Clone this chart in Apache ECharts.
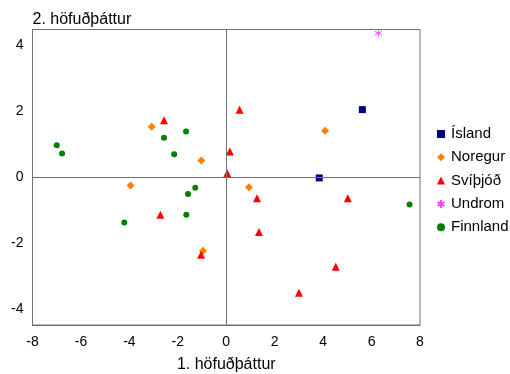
<!DOCTYPE html>
<html lang="is">
<head>
  <meta charset="UTF-8">
  <title>Höfuðþættir</title>
  <style>
    body { margin: 0; background: #fff; }
  </style>
</head>
<body>
  <div id="main" style="width:510px;height:374px"></div>
  <script src="https://cdn.jsdelivr.net/npm/echarts@6/dist/echarts.min.js"></script>
  <script>
    // gögn: [1. höfuðþáttur, 2. höfuðþáttur]
    var island = [[5.62, 2.05], [3.84, -0.02]]
    var noregur = [[-3.08, 1.53], [-1.03, 0.51], [4.08, 1.41], [-3.95, -0.25], [-0.96, -2.23], [0.94, -0.30]]
    var svithjod = [[-2.57, 1.73], [0.55, 2.05], [0.15, 0.78], [0.04, 0.12], [-2.72, -1.14], [-1.04, -2.35],
      [1.27, -0.64], [5.02, -0.64], [1.35, -1.66], [4.52, -2.71], [3.0, -3.5]]
    var undrom = [[6.28, 4.37]]
    var finnland = [[-7.0, 0.97], [-6.78, 0.72], [-2.57, 1.2], [-1.66, 1.39], [-2.15, 0.70], [-1.28, -0.32],
      [-1.58, -0.51], [-1.65, -1.14], [-4.21, -1.37], [7.57, -0.83]]

    var xTicks = [-8, -6, -4, -2, 0, 2, 4, 6, 8]
    var yTicks = [-4, -2, 0, 2, 4]

    var font = 'Liberation Sans, Arial, sans-serif'
    var starPath = 'path://M0,-10L0,10M-8.7,-5L8.7,5M-8.7,5L8.7,-5'

    var myChart = echarts.init(document.getElementById('main'))

    var option = {
      animation: false,
      textStyle: { fontFamily: font },
      grid: {
        left: 32.5, top: 29.5, right: 90, bottom: 49,
        outerBoundsMode: 'none',
        show: true, borderColor: '#707070', borderWidth: 1
      },
      legend: {
        orient: 'vertical',
        left: 435,
        top: 126.5,
        padding: 0,
        itemWidth: 8,
        itemHeight: 8,
        itemGap: 8.3,
        textStyle: { fontSize: 15, color: '#000', fontFamily: font, padding: [0, 0, 0, 1] },
        data: ['Ísland', 'Noregur', 'Svíþjóð', 'Undrom', 'Finnland']
      },
      xAxis: {
        type: 'value',
        min: -8,
        max: 8,
        interval: 2,
        name: '1. höfuðþáttur',
        nameLocation: 'middle',
        nameGap: 32,
        nameTextStyle: { fontSize: 16, color: '#000' },
        axisLine: { onZero: false, lineStyle: { color: '#707070' } },
        axisTick: { show: false },
        splitLine: { show: false },
        axisLabel: { fontSize: 14, color: '#000', margin: 10, customValues: xTicks }
      },
      yAxis: {
        type: 'value',
        min: -4.48,
        max: 4.48,
        name: '2. höfuðþáttur',
        nameLocation: 'end',
        nameGap: 2,
        nameTextStyle: { fontSize: 16, color: '#000', align: 'left' },
        axisLine: { onZero: false, lineStyle: { color: '#707070' } },
        axisTick: { show: false },
        splitLine: { show: false },
        axisLabel: { fontSize: 14, color: '#000', margin: 9, customValues: yTicks }
      },
      series: [
        {
          name: 'Ísland', type: 'scatter', data: island,
          symbol: 'rect', symbolSize: 7,
          itemStyle: { color: '#000080', opacity: 1 },
          markLine: {
            silent: true,
            symbol: 'none',
            label: { show: false },
            lineStyle: { color: '#707070', type: 'solid', width: 1 },
            data: [{ xAxis: 0 }, { yAxis: 0 }]
          },
          z: 3
        },
        {
          name: 'Noregur', type: 'scatter', data: noregur,
          symbol: 'diamond', symbolSize: 8,
          itemStyle: { color: '#ff8000', opacity: 1 }
        },
        {
          name: 'Svíþjóð', type: 'scatter', data: svithjod,
          symbol: 'triangle', symbolSize: 8,
          itemStyle: { color: '#ff0000', opacity: 1 }
        },
        {
          name: 'Undrom', type: 'scatter', data: undrom,
          symbol: starPath, symbolSize: 7,
          itemStyle: { color: 'none', borderColor: '#ff40ff', borderWidth: 1, opacity: 1 }
        },
        {
          name: 'Finnland', type: 'scatter', data: finnland,
          symbol: 'circle', symbolSize: 6,
          itemStyle: { color: '#008000', opacity: 1 }
        }
      ]
    }

    myChart.setOption(option)
  </script>
</body>
</html>
